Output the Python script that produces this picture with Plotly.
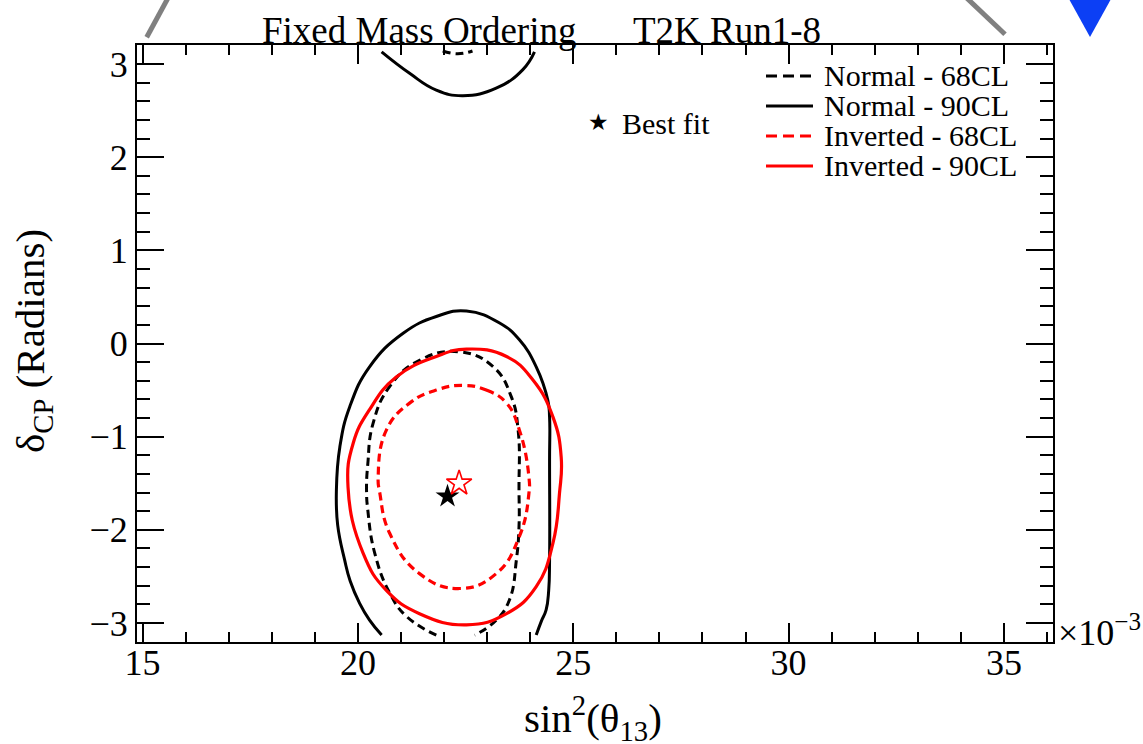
import plotly.graph_objects as go

# sin^2(theta13) in units of 1e-3, delta_CP in radians
# Normal ordering, 90% CL (main region and wrapped piece near +pi)
n90_x = [20.55, 20.27, 20.04, 19.82, 19.69, 19.53, 19.50, 19.58, 19.81, 20.27,
         21.05, 21.82, 22.52, 23.29, 23.75, 24.14, 24.41, 24.45, 24.45, 24.45,
         24.43, 24.37, 24.26, 24.14]
n90_y = [-3.13, -2.97, -2.79, -2.55, -2.32, -1.95, -1.58, -1.11, -0.68, -0.25,
         0.11, 0.29, 0.35, 0.22, 0.04, -0.25, -0.61, -0.79, -1.25, -2.32,
         -2.65, -2.86, -2.98, -3.13]
n90_top_x = [20.55, 21.20, 21.82, 22.44, 23.21, 23.83, 24.10]
n90_top_y = [3.13, 2.90, 2.72, 2.66, 2.74, 2.94, 3.13]

# Normal ordering, 68% CL
n68_x = [21.82, 21.13, 20.74, 20.39, 20.23, 20.20, 20.23, 20.35, 20.74, 21.43,
         22.36, 23.14, 23.56, 23.72, 23.74, 23.74, 23.68, 23.52, 23.21, 22.71]
n68_y = [-3.13, -2.93, -2.68, -2.25, -1.79, -1.57, -1.29, -0.86, -0.46, -0.18,
         -0.09, -0.25, -0.57, -0.93, -1.57, -1.97, -2.32, -2.75, -2.97, -3.13]
n68_top_x = [21.97, 22.32, 22.66]
n68_top_y = [3.14, 3.11, 3.14]

# Inverted ordering, 90% CL (closed)
i90_x = [22.52, 23.45, 24.06, 24.53, 24.72, 24.68, 24.53, 24.14, 23.45, 22.52,
         21.43, 20.66, 20.12, 19.77, 19.89, 20.27, 20.89, 21.82, 22.52]
i90_y = [-0.06, -0.14, -0.39, -0.79, -1.22, -1.61, -2.14, -2.61, -2.90, -3.02,
         -2.90, -2.65, -2.25, -1.54, -1.07, -0.71, -0.36, -0.14, -0.06]

# Inverted ordering, 68% CL (closed)
i68_x = [22.44, 22.98, 23.45, 23.75, 23.97, 23.97, 23.75, 23.21, 22.36, 21.43,
         20.74, 20.51, 20.47, 20.66, 21.20, 21.82, 22.44]
i68_y = [-0.45, -0.50, -0.64, -0.93, -1.43, -1.61, -2.07, -2.47, -2.63, -2.47,
         -2.04, -1.61, -1.43, -0.93, -0.64, -0.50, -0.45]

# Best-fit points
bf_normal = (22.08, -1.64)
bf_inverted = (22.35, -1.50)

legend_labels = ["Normal - 68CL", "Normal - 90CL", "Inverted - 68CL", "Inverted - 90CL"]
x_tickvals = [15, 20, 25, 30, 35]
y_tickvals = [-3, -2, -1, 0, 1, 2, 3]

W, H = 1143, 744
L, R, T, B = 137, 1053, 45, 642
FONT = "Liberation Serif"
RED = "#ff0000"
DASH = "8px,5px"
LEG_DASH = "11px,6px"


def px(xp):
    return (xp - L) / (R - L)


def py(yp):
    return (B - yp) / (B - T)


fig = go.Figure()


def contour(xs, ys, color, dash, width):
    fig.add_trace(go.Scatter(
        x=xs, y=ys, mode="lines", showlegend=False, hoverinfo="skip",
        line=dict(color=color, width=width, dash=dash, shape="spline", smoothing=1.3),
    ))


contour(n90_x, n90_y, "black", "solid", 3)
contour(n90_top_x, n90_top_y, "black", "solid", 3)
contour(n68_x, n68_y, "black", DASH, 3)
contour(n68_top_x, n68_top_y, "black", DASH, 3)
contour(i90_x, i90_y, RED, "solid", 3.2)
contour(i68_x, i68_y, RED, DASH, 3.2)

fig.add_trace(go.Scatter(
    x=[bf_normal[0]], y=[bf_normal[1]], mode="markers", showlegend=False,
    marker=dict(symbol="star", size=18, color="black", line=dict(width=0)),
))
fig.add_trace(go.Scatter(
    x=[bf_inverted[0]], y=[bf_inverted[1]], mode="markers", showlegend=False,
    marker=dict(symbol="star-open", size=19, color=RED, line=dict(width=1.6, color=RED)),
))

shapes = []
annotations = []

# Legend block (line samples + labels)
leg_styles = [("black", LEG_DASH), ("black", "solid"), (RED, LEG_DASH), (RED, "solid")]
for i, (lab, (col, dsh)) in enumerate(zip(legend_labels, leg_styles)):
    yc = 76 + 30 * i
    shapes.append(dict(type="line", xref="paper", yref="paper",
                       x0=px(766), x1=px(813), y0=py(yc), y1=py(yc),
                       line=dict(color=col, width=3, dash=dsh)))
    annotations.append(dict(text=lab, xref="paper", yref="paper",
                            x=px(822), y=py(yc - 1), xanchor="left", yanchor="middle",
                            showarrow=False, font=dict(family=FONT, size=30, color="black")))

annotations.append(dict(text="★", xref="paper", yref="paper", x=px(598), y=py(122),
                        xanchor="center", yanchor="middle", showarrow=False,
                        font=dict(family="DejaVu Sans", size=23, color="black")))
annotations.append(dict(text="Best fit", xref="paper", yref="paper", x=px(620), y=py(123),
                        xanchor="left", yanchor="middle", showarrow=False,
                        font=dict(family=FONT, size=30, color="black")))

# Header text
annotations.append(dict(text="Fixed Mass Ordering", xref="paper", yref="paper",
                        x=px(260), y=py(30.5), xanchor="left", yanchor="middle",
                        showarrow=False, font=dict(family=FONT, size=37, color="black")))
annotations.append(dict(text="T2K Run1-8", xref="paper", yref="paper",
                        x=px(631), y=py(30.5), xanchor="left", yanchor="middle",
                        showarrow=False, font=dict(family=FONT, size=37, color="black")))

# Axis titles
annotations.append(dict(text="sin<sup>2</sup>(θ<sub>13</sub>)", xref="paper", yref="paper",
                        x=px(593), y=py(718), xanchor="center", yanchor="middle",
                        showarrow=False, font=dict(family=FONT, size=41, color="black")))
annotations.append(dict(text="δ<sub>CP</sub> (Radians)", xref="paper", yref="paper",
                        x=px(33), y=py(341), xanchor="center", yanchor="middle", textangle=-90,
                        showarrow=False, font=dict(family=FONT, size=41, color="black")))
annotations.append(dict(text="×10<sup>−3</sup>", xref="paper", yref="paper",
                        x=px(1056), y=py(630), xanchor="left", yanchor="middle",
                        showarrow=False, font=dict(family=FONT, size=36, color="black")))

# Slide decorations around the frame
shapes.append(dict(type="line", xref="paper", yref="paper",
                   x0=px(146.7), y0=py(37.3), x1=px(168), y1=py(-2),
                   line=dict(color="#808080", width=5)))
shapes.append(dict(type="line", xref="paper", yref="paper",
                   x0=px(966.7), y0=py(-2), x1=px(1005), y1=py(34.3),
                   line=dict(color="#808080", width=5)))
shapes.append(dict(type="path", xref="paper", yref="paper",
                   path=f"M {px(1069)},{py(-1)} L {px(1111)},{py(-1)} L {px(1090)},{py(37)} Z",
                   fillcolor="#0c3ff5", line=dict(width=0)))

axis_common = dict(
    showgrid=False, zeroline=False, showline=True, linecolor="black", linewidth=2,
    mirror="ticks", ticks="inside", tickcolor="black", tickwidth=2,
    tickfont=dict(family=FONT, size=36, color="black"),
)

fig.update_layout(
    width=W, height=H,
    margin=dict(l=L, r=W - R, t=T, b=H - B, pad=0),
    paper_bgcolor="white", plot_bgcolor="white",
    showlegend=False,
    xaxis=dict(range=[14.87, 36.14], tickvals=x_tickvals, ticklen=19,
               ticklabelstandoff=-12,
               minor=dict(ticks="inside", ticklen=10, dtick=1, tick0=0,
                          tickwidth=1.5, tickcolor="black"),
               **axis_common),
    yaxis=dict(range=[-3.204, 3.204], tickvals=y_tickvals, ticklen=27,
               minor=dict(ticks="inside", ticklen=13, dtick=0.2, tick0=0,
                          tickwidth=1.5, tickcolor="black"),
               **axis_common),
    shapes=shapes,
    annotations=annotations,
)

fig.write_html("out.html")
